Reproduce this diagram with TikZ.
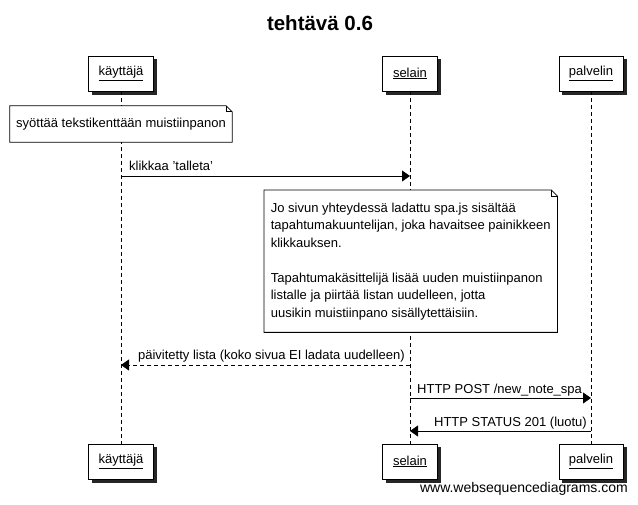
\documentclass[tikz,border=0pt]{standalone}
\usepackage{fontspec}
\setmainfont{Liberation Sans}
\usetikzlibrary{arrows.meta}
\begin{document}
\begin{tikzpicture}[x=1pt,y=-1pt,
  actor/.style={draw=black, line width=0.8pt, fill=white, minimum width=#1, minimum height=35pt, inner sep=0pt,
    font=\fontsize{13}{15}\selectfont},
  actorshadow/.style={fill=black!85, draw=none, minimum width=#1, minimum height=35.8pt, inner sep=0pt},
  lifeline/.style={draw=black, line width=0.8pt, dash pattern=on 4pt off 3pt},
  msg/.style={draw=black, line width=0.8pt, -{Triangle[length=8pt,width=11pt]}},
  reply/.style={msg, dash pattern=on 4pt off 3pt},
  lbl/.style={font=\fontsize{13}{15}\selectfont, inner sep=0pt},
  notebox/.style={fill=white, draw=none, inner sep=0pt, font=\fontsize{13}{17.5}\selectfont},
  noteline/.style={draw=black, line width=0.8pt, line join=miter}
]
\useasboundingbox (0,0) rectangle (638,505);

% title
\node[font=\fontsize{20.5}{24}\selectfont\bfseries] (title) at (320,23) {tehtävä 0.6};

% actor shadows
\node[actorshadow=65.8pt] (kts) at (124.5,77) {};
\node[actorshadow=55.8pt] (sts) at (413.5,77) {};
\node[actorshadow=64.8pt] (pts) at (594.5,77) {};
\node[actorshadow=65.8pt] (kbs) at (124.5,465) {};
\node[actorshadow=55.8pt] (sbs) at (413.5,465) {};
\node[actorshadow=64.8pt] (pbs) at (594.5,465) {};

% actors
\node[actor=65pt] (kt) at (121,73.5) {\underline{käyttäjä}};
\node[actor=55pt] (st) at (410,73.5) {\underline{selain}};
\node[actor=64pt] (pt) at (591,73.5) {\underline{palvelin}};
\node[actor=65pt] (kb) at (121,461.5) {\underline{käyttäjä}};
\node[actor=55pt] (sb) at (410,461.5) {\underline{selain}};
\node[actor=64pt] (pb) at (591,461.5) {\underline{palvelin}};

% lifelines
\draw[lifeline] (kt.south) -- (kb.north);
\draw[lifeline] (st.south) -- (sb.north);
\draw[lifeline] (pt.south) -- (pb.north);

% note 1
\node[notebox, minimum width=222pt, minimum height=36pt] (n1) at (121,124) {syöttää tekstikenttään muistiinpanon};
\draw[noteline] (n1.north west) -- ([xshift=-6pt]n1.north east) -- ([yshift=-6pt]n1.north east) -- (n1.south east) -- (n1.south west) -- cycle;
\draw[noteline, line width=0.6pt] ([xshift=-6pt]n1.north east) -- ([xshift=-6pt,yshift=-6pt]n1.north east) -- ([yshift=-6pt]n1.north east);

% message 1
\coordinate (m1a) at (kt.south |- 0,176);
\coordinate (m1b) at (st.south |- 0,176);
\draw[msg] (m1a) -- (m1b);
\node[lbl, anchor=base west] (l1) at (129,171) {klikkaa 'talleta'};

% note 2
\node[notebox, anchor=north west, minimum width=293pt, minimum height=142pt, align=left] (n2) at (264,190)
{Jo sivun yhteydessä ladattu spa.js sisältää\\
tapahtumakuuntelijan, joka havaitsee painikkeen\\
klikkauksen.\\[17.5pt]
Tapahtumakäsittelijä lisää uuden muistiinpanon\\
listalle ja piirtää listan uudelleen, jotta\\
uusikin muistiinpano sisällytettäisiin.};
\draw[noteline] (n2.north west) -- ([xshift=-6pt]n2.north east) -- ([yshift=-6pt]n2.north east) -- (n2.south east) -- (n2.south west) -- cycle;
\draw[noteline, line width=0.6pt] ([xshift=-6pt]n2.north east) -- ([xshift=-6pt,yshift=-6pt]n2.north east) -- ([yshift=-6pt]n2.north east);

% message 2
\coordinate (m2a) at (st.south |- 0,365);
\coordinate (m2b) at (kt.south |- 0,365);
\draw[reply] (m2a) -- (m2b);
\node[lbl, anchor=base east] (l2) at (405,360) {päivitetty lista (koko sivua EI ladata uudelleen)};

% message 3
\coordinate (m3a) at (st.south |- 0,398);
\coordinate (m3b) at (pt.south |- 0,398);
\draw[msg] (m3a) -- (m3b);
\node[lbl, anchor=base west] (l3) at (417,393) {HTTP POST /new\_note\_spa};

% message 4
\coordinate (m4a) at (pt.south |- 0,431);
\coordinate (m4b) at (st.south |- 0,431);
\draw[msg] (m4a) -- (m4b);
\node[lbl, anchor=base east] (l4) at (587,426) {HTTP STATUS 201 (luotu)};

% watermark
\node[font=\fontsize{14}{16}\selectfont, inner sep=0pt, anchor=base east] (wm) at (628,492) {www.websequencediagrams.com};
\end{tikzpicture}
\end{document}
